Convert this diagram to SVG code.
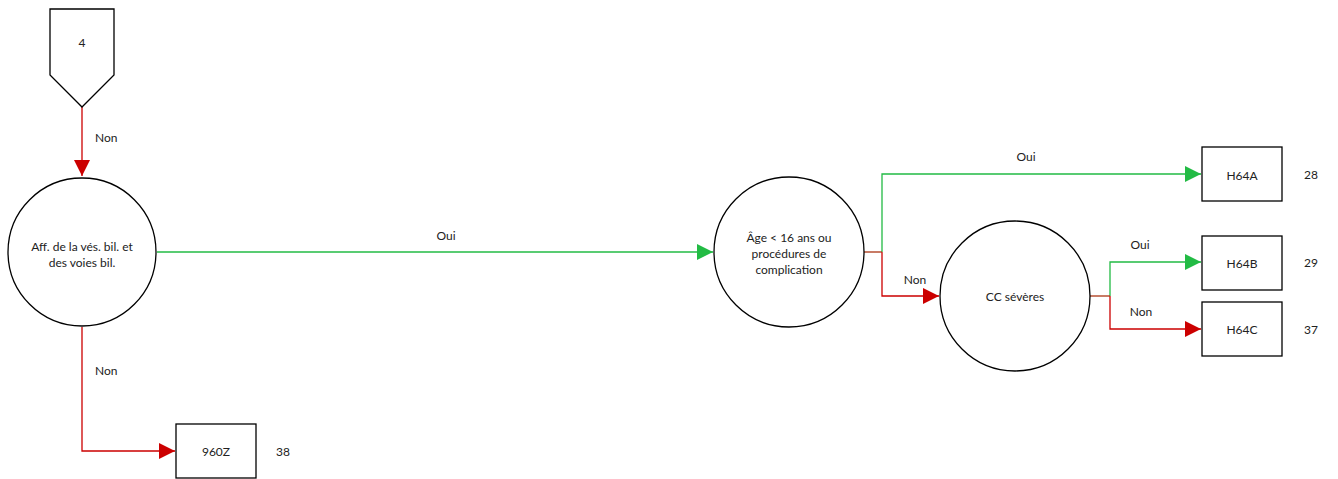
<svg xmlns="http://www.w3.org/2000/svg" width="1338" height="479" viewBox="0 0 1338 479">
<style>
.shape{fill:#fff;stroke:#000;stroke-width:1.3}
.t{font-family:Lato,"Liberation Sans",sans-serif;font-size:12px;fill:#222;text-anchor:middle;dominant-baseline:central}
.tl{font-family:Lato,"Liberation Sans",sans-serif;font-size:12px;fill:#222;dominant-baseline:central}
.g{fill:none;stroke:#22bb44;stroke-width:1.3}
.r{fill:none;stroke:#cc0000;stroke-width:1.3}
.b{fill:none;stroke:#aa3311;stroke-width:1.3}
</style>
<defs>
<marker id="ag" viewBox="0 0 10 10" refX="10" refY="5" markerWidth="16" markerHeight="16" markerUnits="userSpaceOnUse" orient="auto"><path d="M0,0 L10,5 L0,10 Z" fill="#22bb44"/></marker>
<marker id="ar" viewBox="0 0 10 10" refX="10" refY="5" markerWidth="16" markerHeight="16" markerUnits="userSpaceOnUse" orient="auto"><path d="M0,0 L10,5 L0,10 Z" fill="#cc0000"/></marker>
</defs>
<rect width="1338" height="479" fill="#fff"/>
<g id="connectors">
<path class="r" d="M82,107 L82,176" marker-end="url(#ar)"/>
<text class="tl" x="95" y="137">Non</text>
<path class="g" d="M157,252 L713,252" marker-end="url(#ag)"/>
<text class="t" x="446" y="235">Oui</text>
<path class="r" d="M82,327 L82,451 L175,451" marker-end="url(#ar)"/>
<text class="tl" x="95" y="370">Non</text>
<path class="g" d="M882,252 L882,174 L1201,174" marker-end="url(#ag)"/>
<text class="t" x="1026" y="156">Oui</text>
<path class="r" d="M882,252 L882,296 L939,296" marker-end="url(#ar)"/>
<text class="t" x="915" y="279">Non</text>
<path class="b" d="M864,252 L882,252"/>
<path class="g" d="M1110,296 L1110,262 L1201,262" marker-end="url(#ag)"/>
<text class="t" x="1140" y="244">Oui</text>
<path class="r" d="M1110,296 L1110,329 L1201,329" marker-end="url(#ar)"/>
<text class="t" x="1141" y="311">Non</text>
<path class="b" d="M1090,296 L1110,296"/>
</g>
<g id="n4">
<path class="shape" d="M50,9 L114,9 L114,75 L82,107 L50,75 Z"/>
<text class="t" x="82" y="42">4</text>
</g>
<g id="n_aff">
<circle class="shape" cx="82" cy="252" r="74"/>
<text class="t" x="82" y="246">Aff. de la vés. bil. et</text>
<text class="t" x="82" y="262">des voies bil.</text>
</g>
<g id="n_age">
<circle class="shape" cx="789" cy="252" r="75"/>
<text class="t" x="789" y="237">Âge &lt; 16 ans ou</text>
<text class="t" x="789" y="253">procédures de</text>
<text class="t" x="789" y="269">complication</text>
</g>
<g id="n_cc">
<circle class="shape" cx="1015" cy="296" r="75"/>
<text class="t" x="1015" y="296">CC sévères</text>
</g>
<g id="n_h64a">
<rect class="shape" x="1202" y="147" width="80" height="54"/>
<text class="t" x="1242" y="175">H64A</text>
<text class="tl" x="1304" y="174">28</text>
</g>
<g id="n_h64b">
<rect class="shape" x="1202" y="236" width="80" height="54"/>
<text class="t" x="1242" y="263">H64B</text>
<text class="tl" x="1304" y="262">29</text>
</g>
<g id="n_h64c">
<rect class="shape" x="1202" y="302" width="80" height="54"/>
<text class="t" x="1242" y="329">H64C</text>
<text class="tl" x="1304" y="329">37</text>
</g>
<g id="n_960z">
<rect class="shape" x="176" y="424" width="80" height="54"/>
<text class="t" x="216" y="451">960Z</text>
<text class="tl" x="276" y="451">38</text>
</g>
</svg>
